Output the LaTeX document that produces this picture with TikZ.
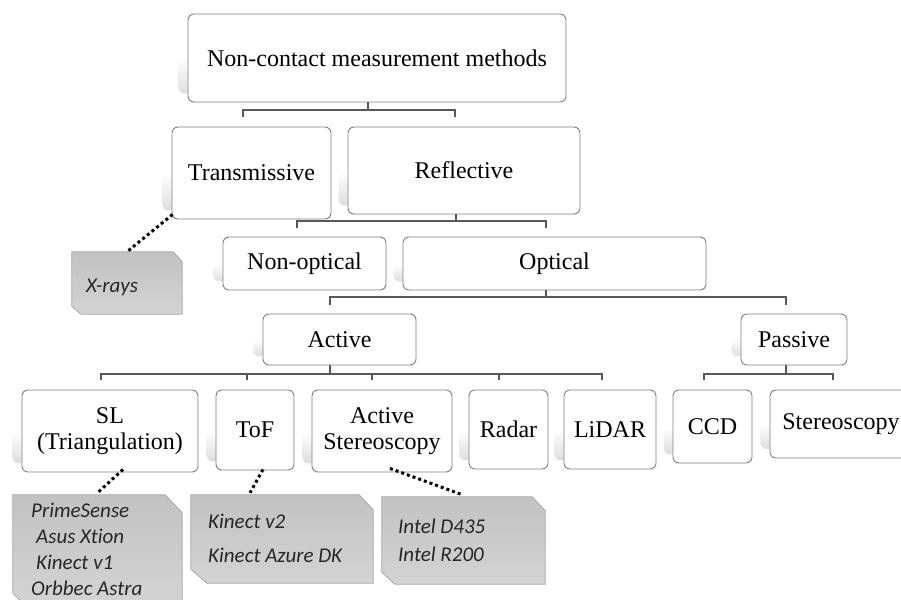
\documentclass[tikz,border=0pt]{standalone}
\usepackage{fontspec}
\setmainfont{Liberation Serif}
\newfontfamily\notefont[Ligatures=NoCommon]{Carlito}
\usetikzlibrary{backgrounds}
\begin{document}
\begin{tikzpicture}[x=1pt,y=-1pt,
  boxn/.style={draw=black!50, line width=0.9pt, rounded corners=6pt, fill=white, inner sep=0pt, align=center, font=\fontsize{24}{26}\selectfont},
  conn/.style={draw=black!65, line width=1.3pt},
  dots/.style={draw=black, line width=3pt, dash pattern=on 3pt off 3pt},
  noteph/.style={draw=none, inner sep=0pt},
  notefill/.style={draw=black!35, line width=0.8pt, top color=black!24, bottom color=black!17},
  notetxt/.style={anchor=base west, inner sep=0pt, text=black!85, font=\notefont\itshape\fontsize{21}{24}\selectfont},
  shadowfill/.style={top color=white, bottom color=black!13, rounded corners=6pt, draw=none}
]
\useasboundingbox (0,0) rectangle (901,599);
\begin{scope}
\clip (0,0) rectangle (901,599);
% boxes
\node[boxn, minimum width=378pt, minimum height=88pt] (root) at (377,58) {Non-contact measurement methods};
\node[boxn, minimum width=159pt, minimum height=92pt] (trans) at (251.5,173) {Transmissive};
\node[boxn, minimum width=232pt, minimum height=87pt] (refl) at (464,170.5) {Reflective};
\node[boxn, minimum width=163pt, minimum height=53pt] (nonopt) at (304.5,263.5) {Non-optical};
\node[boxn, minimum width=303pt, minimum height=53pt] (opt) at (554.5,263.5) {Optical};
\node[boxn, minimum width=153pt, minimum height=51pt] (active) at (339.5,339.5) {Active};
\node[boxn, minimum width=106pt, minimum height=51pt] (passive) at (794,339.5) {Passive};
\node[boxn, minimum width=176pt, minimum height=82pt] (sl) at (110,431) {SL\\(Triangulation)};
\node[boxn, minimum width=78pt, minimum height=80pt] (tof) at (255,430) {ToF};
\node[boxn, minimum width=140pt, minimum height=82pt] (actst) at (382,431) {Active\\Stereoscopy};
\node[boxn, minimum width=79pt, minimum height=79pt] (radar) at (508.5,429.5) {Radar};
\node[boxn, minimum width=92pt, minimum height=79pt] (lidar) at (610,429.5) {LiDAR};
\node[boxn, minimum width=79pt, minimum height=73pt] (ccd) at (712.5,426.5) {CCD};
\node[boxn, minimum width=142pt, minimum height=68pt] (stereo) at (841,424) {Stereoscopy};

% brackets
\coordinate (b1l) at (243,117); \coordinate (b1r) at (455,117);
\draw[conn] ([xshift=-9pt]root.south) -- ++(0,8);
\draw[conn] (b1l) -- ++(0,-7) -| (b1r);

\coordinate (b2l) at (297,228); \coordinate (b2r) at (546,228);
\draw[conn] ([xshift=-8pt]refl.south) -- ++(0,7);
\draw[conn] (b2l) -- ++(0,-7) -| (b2r);

\coordinate (b3l) at (330,305); \coordinate (b3r) at (786,305);
\draw[conn] ([xshift=-8.5pt]opt.south) -- ++(0,7);
\draw[conn] (b3l) -- ++(0,-8) -| (b3r);

\coordinate (b4a) at (101,380); \coordinate (b4b) at (247,380); \coordinate (b4c) at (372,380);
\coordinate (b4d) at (499,380); \coordinate (b4e) at (602,380);
\draw[conn] ([xshift=-9.5pt]active.south) -- ++(0,9);
\draw[conn] (b4a) -- ++(0,-6) -| (b4e);
\draw[conn] (b4b) -- ++(0,-6);
\draw[conn] (b4c) -- ++(0,-6);
\draw[conn] (b4d) -- ++(0,-6);

\coordinate (b5l) at (704,380); \coordinate (b5r) at (833,380);
\draw[conn] ([xshift=-8pt]passive.south) -- ++(0,9);
\draw[conn] (b5l) -- ++(0,-6) -| (b5r);

% notes
\node[noteph, minimum width=110pt, minimum height=62pt] (xr) at (127,283) {};
\shade[notefill] (xr.north west) -- ([xshift=-9pt]xr.north east) -- ([yshift=-10pt]xr.north east) -- (xr.south east) -- ([xshift=9pt]xr.south west) -- ([yshift=8pt]xr.south west) -- cycle;
\node[notetxt] (xrt) at (86,292) {X-rays};

\node[noteph, minimum width=169pt, minimum height=110pt] (sln) at (97.5,550) {};
\shade[notefill] (sln.north west) -- ([xshift=-17pt]sln.north east) -- ([yshift=-18pt]sln.north east) -- (sln.south east) -- ([xshift=12pt]sln.south west) -- ([yshift=12pt]sln.south west) -- cycle;
\node[notetxt] (slt1) at (31,517) {PrimeSense};
\node[notetxt] (slt2) at (36,543) {Asus Xtion};
\node[notetxt] (slt3) at (36,569) {Kinect v1};
\node[notetxt] (slt4) at (31,595) {Orbbec Astra};

\node[noteph, minimum width=182pt, minimum height=88pt] (tofn) at (282,539) {};
\shade[notefill] (tofn.north west) -- ([xshift=-14pt]tofn.north east) -- ([yshift=-15pt]tofn.north east) -- (tofn.south east) -- ([xshift=16pt]tofn.south west) -- ([yshift=14pt]tofn.south west) -- cycle;
\node[notetxt] (toft1) at (208,528) {Kinect v2};
\node[notetxt] (toft2) at (208,562) {Kinect Azure DK};

\node[noteph, minimum width=163pt, minimum height=87pt] (asn) at (463.5,540.5) {};
\shade[notefill] (asn.north west) -- ([xshift=-13pt]asn.north east) -- ([yshift=-14pt]asn.north east) -- (asn.south east) -- ([xshift=13pt]asn.south west) -- ([yshift=12pt]asn.south west) -- cycle;
\node[notetxt] (ast1) at (398,533) {Intel D435};
\node[notetxt] (ast2) at (398,561) {Intel R200};

% dotted connectors
\draw[dots] ([shift={(1,-5)}]trans.south west) -- (xr.north);
\draw[dots] ([shift={(13,-3)}]sl.south) -- ([yshift=2pt]sln.north);
\draw[dots] ([shift={(8,-1)}]tof.south) -- ([shift={(-32,-2)}]tofn.north);
\draw[dots] ([shift={(8,-4)}]actst.south) -- ([shift={(-1,-2)}]asn.north);
\end{scope}

\begin{scope}[on background layer]
\foreach \n in {root,trans,refl,nonopt,opt,active,passive,sl,tof,actst,radar,lidar,ccd}
  \shade[shadowfill] ([xshift=-9pt]\n.west) rectangle ([xshift=-9pt,yshift=9pt]\n.south east);
\shade[shadowfill] ([xshift=-9pt]stereo.west) rectangle (900,449);
\end{scope}
\end{tikzpicture}
\end{document}
